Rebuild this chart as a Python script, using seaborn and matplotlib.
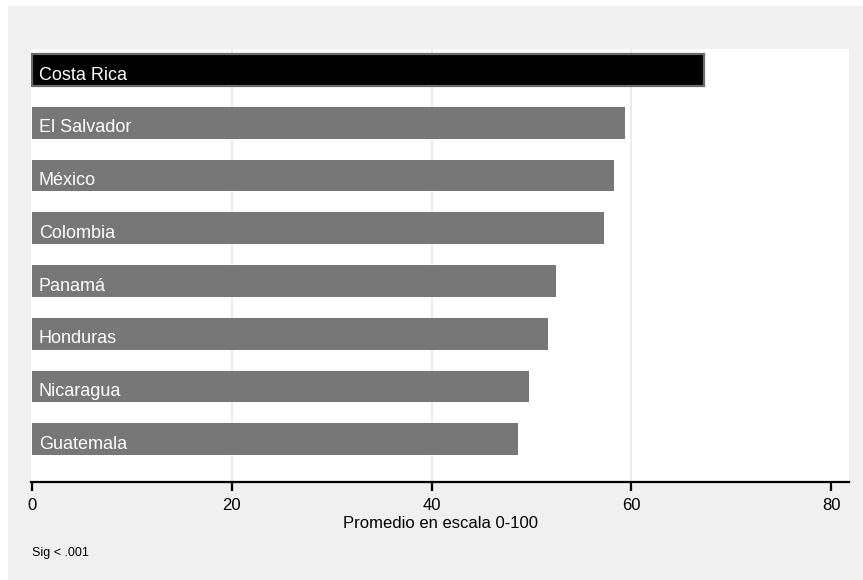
import matplotlib
matplotlib.use("Agg")
import matplotlib.pyplot as plt
import seaborn as sns
import pandas as pd
from matplotlib.patches import Rectangle

countries = ["Costa Rica", "El Salvador", "México", "Colombia", "Panamá",
             "Honduras", "Nicaragua", "Guatemala"]
values = [67.3, 59.4, 58.3, 57.3, 52.5, 51.7, 49.8, 48.7]
xticks = [0, 20, 40, 60, 80]
xlabel = "Promedio en escala 0-100"
note = "Sig < .001"

sns.set_theme(style="white")
plt.rcParams['font.family'] = ['Liberation Sans', 'DejaVu Sans']
plt.rcParams['text.color'] = 'black'
plt.rcParams['axes.labelcolor'] = 'black'
plt.rcParams['xtick.color'] = 'black'

df = pd.DataFrame({"pais": countries, "valor": values})
colors = ["#000000"] + ["#777777"] * (len(countries) - 1)

fig = plt.figure(figsize=(8.63, 5.80), dpi=100, facecolor="white")
fig.patches.append(Rectangle((8 / 863, 0), 1, (580 - 6) / 580, transform=fig.transFigure,
                             facecolor="#f0f0f0", edgecolor="none", zorder=-10))
W, H = 863, 580
ax = fig.add_axes([31 / W, (H - 482) / H, (849 - 31) / W, (482 - 49) / H])
ax.set_facecolor("white")

sns.barplot(data=df, y="pais", x="valor", hue="pais", palette=colors, order=countries,
            orient="h", width=0.6, legend=False, ax=ax, zorder=3, saturation=1,
            linewidth=0)
# border on first bar
ax.patches[0].set_edgecolor("#6a6a6a")
ax.patches[0].set_linewidth(1.6)

for x in [20, 40, 60]:
    ax.axvline(x, color="#ececec", lw=1.6, zorder=1)

for i, c in enumerate(countries):
    ax.text(0.7, i + 0.18, c, color="white", fontsize=13, ha="left", va="baseline", zorder=5)

ax.set_xlim(-0.1, 81.8)
ax.set_ylim(7.81, -0.4)
ax.set_yticks([])
ax.set_ylabel("")
ax.set_xticks(xticks)
ax.set_xticklabels([str(t) for t in xticks], fontsize=12, color="black")
ax.set_xlabel(xlabel, fontsize=12, labelpad=2, color="black")
for s in ["top", "right", "left"]:
    ax.spines[s].set_visible(False)
ax.spines["bottom"].set_color("black")
ax.spines["bottom"].set_linewidth(1.6)
ax.tick_params(axis="x", bottom=True, length=6.5, width=1.6, color="black", pad=5,
               labelcolor="black")

fig.text(32 / W, 1 - 553 / H, note, fontsize=9, ha="left", va="center", color="black")

fig.savefig("out.png", dpi=100, facecolor=fig.get_facecolor())
